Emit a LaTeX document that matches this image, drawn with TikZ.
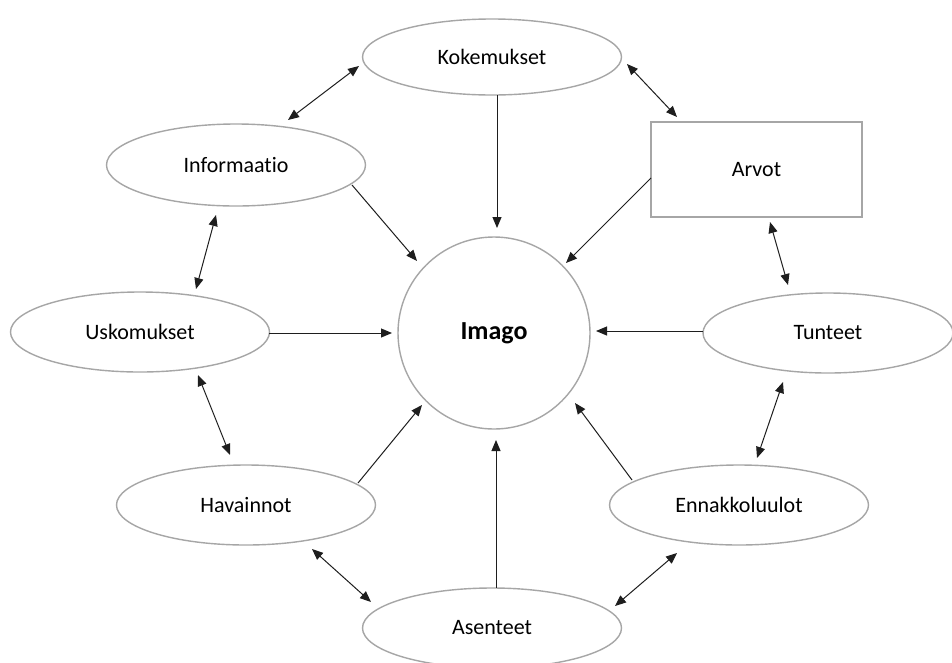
\documentclass[tikz,border=0pt]{standalone}
\usepackage{fontspec}
\setmainfont{Carlito}[Ligatures=NoCommon]
\usetikzlibrary{shapes.geometric,arrows.meta}
\definecolor{edgegray}{RGB}{166,166,166}
\definecolor{arrowcol}{RGB}{30,30,30}
\begin{document}
\begin{tikzpicture}[x=1pt,y=-1pt,
  oval/.style={ellipse,draw=edgegray,line width=1.4pt,minimum width=259pt,minimum height=80pt,inner sep=0pt,font=\fontsize{22}{26}\selectfont},
  box/.style={rectangle,draw=edgegray,line width=1.4pt,minimum width=211pt,minimum height=95pt,inner sep=0pt,font=\fontsize{22}{26}\selectfont},
  hub/.style={circle,draw=edgegray,line width=1.4pt,minimum size=192pt,inner sep=0pt,font=\bfseries\fontsize{26}{30}\selectfont},
  one/.style={arrowcol,line width=1pt,-{Triangle[length=11pt,width=9pt]}},
  two/.style={arrowcol,line width=1pt,{Triangle[length=11pt,width=9pt]}-{Triangle[length=11pt,width=9pt]}}
]
\useasboundingbox[fill=white] (0,0) rectangle (952,662);
\node[oval,minimum height=76pt] (kok) at (492,57) {Kokemukset};
\node[oval,minimum height=82pt] (inf) at (236,165) {Informaatio};
\node[box] (arv) at (756.5,169.5) {Arvot};
\node[hub] (img) at (494,333) {Imago};
\node[oval] (usk) at (140,332) {Uskomukset};
\node[oval,minimum width=250pt] (tun) at (828,333) {Tunteet};
\node[oval] (hav) at (246,505) {Havainnot};
\node[oval] (enn) at (739,505) {Ennakkoluulot};
\node[oval] (ase) at (492,628) {Asenteet};

\draw[two] ([shift={(-133,9)}]kok.center) -- ([shift={(52,-45)}]inf.center);
\draw[two] ([shift={(135,7)}]kok.center) -- ([shift={(-79.5,-52.5)}]arv.center);
\draw[one] ([shift={(5,38)}]kok.center) -- ([shift={(3,-105)}]img.center);
\draw[one] ([shift={(116,20)}]inf.center) -- ([shift={(-77,-72)}]img.center);
\draw[one] ([shift={(-105.5,8.5)}]arv.center) -- ([shift={(72,-70)}]img.center);
\draw[two] ([shift={(-20,50)}]inf.center) -- ([shift={(56,-43)}]usk.center);
\draw[two] ([shift={(13.5,52.5)}]arv.center) -- ([shift={(-40,-48)}]tun.center);
\draw[one] ([shift={(129,1)}]usk.center) -- ([shift={(-102,0)}]img.center);
\draw[one] ([shift={(-125,-2)}]tun.center) -- ([shift={(102,-2)}]img.center);
\draw[two] ([shift={(58,43)}]usk.center) -- ([shift={(-16,-50)}]hav.center);
\draw[two] ([shift={(-45,49)}]tun.center) -- ([shift={(18,-47)}]enn.center);
\draw[one] ([shift={(112,-22)}]hav.center) -- ([shift={(-72,72)}]img.center);
\draw[one] ([shift={(-107,-25)}]enn.center) -- ([shift={(81,70)}]img.center);
\draw[one] ([shift={(4,-40)}]ase.center) -- ([shift={(2,107)}]img.center);
\draw[two] ([shift={(66,44)}]hav.center) -- ([shift={(-121,-26)}]ase.center);
\draw[two] ([shift={(-62,48)}]enn.center) -- ([shift={(123,-22)}]ase.center);
\end{tikzpicture}
\end{document}
